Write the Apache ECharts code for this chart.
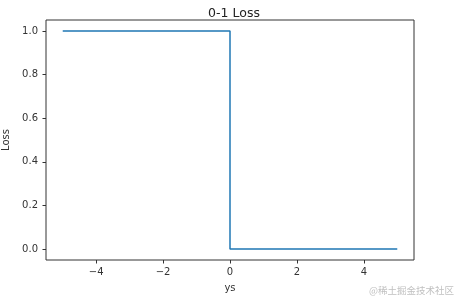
<!DOCTYPE html>
<html><head><meta charset="utf-8">
<script src="https://cdn.jsdelivr.net/npm/echarts@6/dist/echarts.min.js"></script>
<style>html,body{margin:0;padding:0;background:#fff}#c{width:458px;height:301px}</style>
</head><body><div id="c"></div>
<script>
const xs = [-5, 0, 0, 5];
const loss = [1, 1, 0, 0];
const xTicks = [-4, -2, 0, 2, 4];
const yTicks = [0, 0.2, 0.4, 0.6, 0.8, 1.0];
const title = '0-1 Loss';
const xName = 'ys';
const yName = 'Loss';
const watermark = '@稀土掘金技术社区';

const chart = echarts.init(document.getElementById('c'), null, {renderer: 'canvas'});
const font = 'DejaVu Sans';
chart.setOption({
  animation: false,
  title: {text: title, left: 229, textAlign: 'center', top: 2,
    textStyle: {fontFamily: font, fontSize: 12.5, fontWeight: 'normal', color: '#222'}},
  grid: {left: 46, right: 44, top: 20, bottom: 41, show: true, borderColor: '#333', borderWidth: 1,
    containLabel: false, outerBoundsMode: 'none'},
  xAxis: {type: 'value', min: -5.5, max: 5.5, position: 'bottom',
    name: xName, nameLocation: 'middle', nameGap: 23,
    nameTextStyle: {fontFamily: font, fontSize: 10, color: '#333'},
    axisLine: {show: false, onZero: false}, splitLine: {show: false},
    axisTick: {show: true, inside: false, length: 3.5, lineStyle: {color: '#333'}, customValues: xTicks},
    axisLabel: {customValues: xTicks, fontFamily: font, fontSize: 10, color: '#333', margin: 7,
      formatter: v => (v < 0 ? '\u2212' + (-v) : String(v))}},
  yAxis: {type: 'value', min: -0.05, max: 1.05, position: 'left',
    name: yName, nameLocation: 'middle', nameGap: 28,
    nameTextStyle: {fontFamily: font, fontSize: 10, color: '#333'},
    axisLine: {show: false, onZero: false}, splitLine: {show: false},
    axisTick: {show: true, inside: false, length: 3.5, lineStyle: {color: '#333'}, customValues: yTicks},
    axisLabel: {customValues: yTicks, fontFamily: font, fontSize: 10, color: '#333', margin: 8,
      formatter: v => v.toFixed(1)}},
  series: [{type: 'line', data: xs.map((x, i) => [x, loss[i]]), showSymbol: false,
    lineStyle: {color: '#1f77b4', width: 1.5}, itemStyle: {color: '#1f77b4'}}],
  graphic: [{type: 'text', right: 4, top: 286,
    style: {text: watermark, font: '9.5px "Noto Sans CJK SC"', fill: '#c0c0c0'}}]
});
</script></body></html>
